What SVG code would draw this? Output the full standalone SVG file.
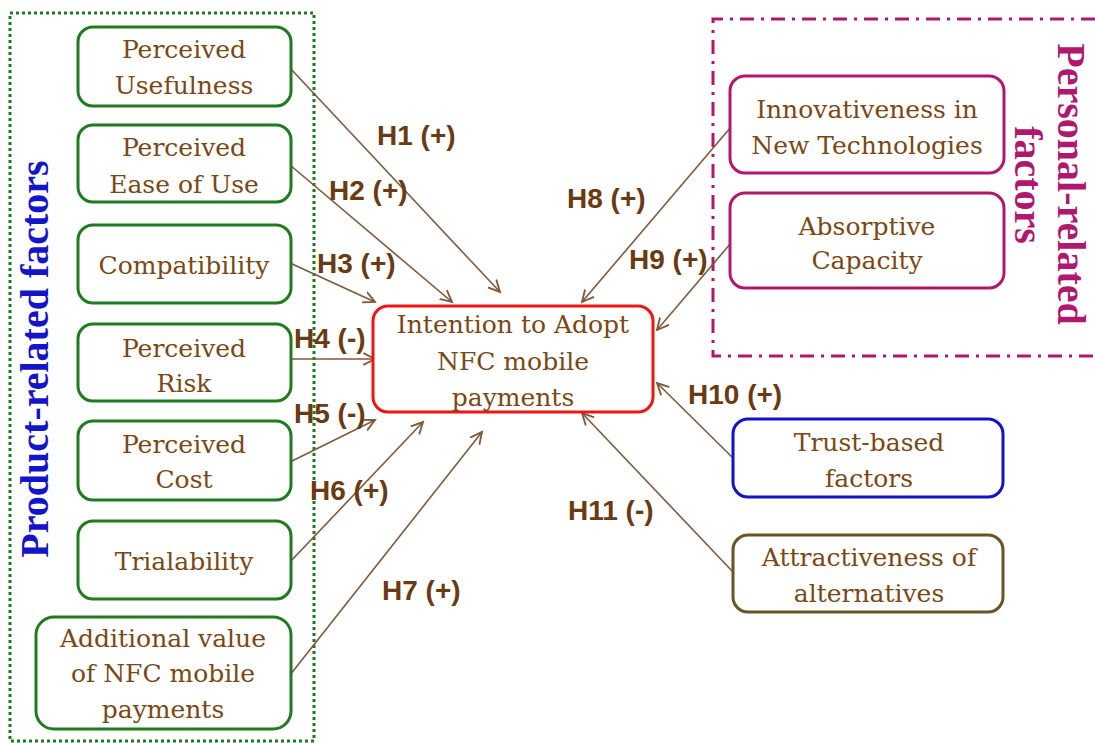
<svg xmlns="http://www.w3.org/2000/svg" width="1095" height="743" viewBox="0 0 1095 743">
<defs>
<style>
.nt{font-family:"DejaVu Serif","Liberation Serif",serif;font-size:25px;fill:#7a4816;text-anchor:middle}
.lb{font-family:"Liberation Sans",Arial,sans-serif;font-size:28px;font-weight:bold;fill:#6a3a12}
.g{fill:#fff;stroke:#1e7b1e;stroke-width:3}
.m{fill:#fff;stroke:#b0186e;stroke-width:3}
.cn{stroke:#80593a;stroke-width:1.6;fill:none;marker-end:url(#ah)}
.vt{font-family:"Liberation Serif","Times New Roman",serif;font-size:40px;font-weight:bold;text-anchor:middle}
</style>
<marker id="ah" markerWidth="14" markerHeight="14" refX="10" refY="5" orient="auto" markerUnits="userSpaceOnUse" viewBox="0 0 12 10">
<path d="M0,0 L10,5 L0,10" fill="none" stroke="#80593a" stroke-width="1.6"/>
</marker>
</defs>
<rect width="1095" height="743" fill="#fff"/>

<g id="product-group">
<rect x="10" y="13" width="304" height="728" fill="none" stroke="#1e7b1e" stroke-width="3" stroke-dasharray="3 3"/>
<text class="vt" fill="#1414c8" transform="translate(48,359) rotate(-90)">Product-related factors</text>
</g>

<g id="personal-group">
<path d="M1095,19 L713,19 L713,356 L1095,356" fill="none" stroke="#b0186e" stroke-width="3" stroke-dasharray="14 7 3 7"/>
<text class="vt" fill="#b0186e" transform="translate(1058,184) rotate(90)">Personal-related</text>
<text class="vt" fill="#b0186e" transform="translate(1015,185) rotate(90)">factors</text>
</g>

<g id="connectors">
<line class="cn" x1="290" y1="68" x2="500" y2="292"/>
<line class="cn" x1="290" y1="165" x2="452" y2="302"/>
<line class="cn" x1="290" y1="263" x2="375" y2="302"/>
<line class="cn" x1="290" y1="359" x2="375" y2="359"/>
<line class="cn" x1="290" y1="462" x2="375" y2="420"/>
<line class="cn" x1="290" y1="562" x2="423" y2="422"/>
<line class="cn" x1="290" y1="675" x2="482" y2="432"/>
<line class="cn" x1="731" y1="127" x2="582" y2="302"/>
<line class="cn" x1="731" y1="243" x2="657" y2="330"/>
<line class="cn" x1="733" y1="458" x2="657" y2="383"/>
<line class="cn" x1="733" y1="572" x2="582" y2="413"/>
<text class="lb" x="377" y="145">H1 (+)</text>
<text class="lb" x="329" y="200">H2 (+)</text>
<text class="lb" x="317" y="273">H3 (+)</text>
<text class="lb" x="294" y="348">H4 (-)</text>
<text class="lb" x="294" y="423">H5 (-)</text>
<text class="lb" x="310" y="500">H6 (+)</text>
<text class="lb" x="382" y="600">H7 (+)</text>
<text class="lb" x="567" y="208">H8 (+)</text>
<text class="lb" x="629" y="269">H9 (+)</text>
<text class="lb" x="688" y="404">H10 (+)</text>
<text class="lb" x="568" y="520">H11 (-)</text>
</g>

<g id="n-usefulness"><rect class="g" x="78" y="27" width="213" height="79" rx="15"/>
<text class="nt" x="184" y="58">Perceived</text><text class="nt" x="184" y="94">Usefulness</text></g>
<g id="n-ease"><rect class="g" x="78" y="125" width="213" height="77" rx="15"/>
<text class="nt" x="184" y="156">Perceived</text><text class="nt" x="184" y="193">Ease of Use</text></g>
<g id="n-compat"><rect class="g" x="78" y="225" width="213" height="78" rx="15"/>
<text class="nt" x="184" y="274">Compatibility</text></g>
<g id="n-risk"><rect class="g" x="78" y="324" width="213" height="77" rx="15"/>
<text class="nt" x="184" y="357">Perceived</text><text class="nt" x="184" y="392">Risk</text></g>
<g id="n-cost"><rect class="g" x="78" y="421" width="213" height="79" rx="15"/>
<text class="nt" x="184" y="453">Perceived</text><text class="nt" x="184" y="488">Cost</text></g>
<g id="n-trial"><rect class="g" x="78" y="521" width="213" height="78" rx="15"/>
<text class="nt" x="184" y="570">Trialability</text></g>
<g id="n-additional"><rect class="g" x="36" y="617" width="255" height="112" rx="18"/>
<text class="nt" x="163" y="647">Additional  value</text><text class="nt" x="163" y="682">of NFC mobile</text><text class="nt" x="163" y="718">payments</text></g>

<g id="n-intention"><rect x="373" y="306" width="280" height="106" rx="15" fill="#fff" stroke="#ee1515" stroke-width="3"/>
<text class="nt" x="513" y="333">Intention  to Adopt</text><text class="nt" x="513" y="370">NFC mobile</text><text class="nt" x="513" y="406">payments</text></g>

<g id="n-innov"><rect class="m" x="730" y="76" width="274" height="97" rx="15"/>
<text class="nt" x="867" y="118">Innovativeness in</text><text class="nt" x="867" y="154">New Technologies</text></g>
<g id="n-absorp"><rect class="m" x="730" y="193" width="274" height="95" rx="15"/>
<text class="nt" x="867" y="235">Absorptive</text><text class="nt" x="867" y="269">Capacity</text></g>
<g id="n-trust"><rect x="733" y="419" width="270" height="78" rx="15" fill="#fff" stroke="#1212c8" stroke-width="3"/>
<text class="nt" x="869" y="451">Trust-based</text><text class="nt" x="869" y="487">factors</text></g>
<g id="n-attract"><rect x="733" y="535" width="270" height="77" rx="15" fill="#fff" stroke="#6b5423" stroke-width="3"/>
<text class="nt" x="869" y="566">Attractiveness of</text><text class="nt" x="869" y="602">alternatives</text></g>
</svg>
